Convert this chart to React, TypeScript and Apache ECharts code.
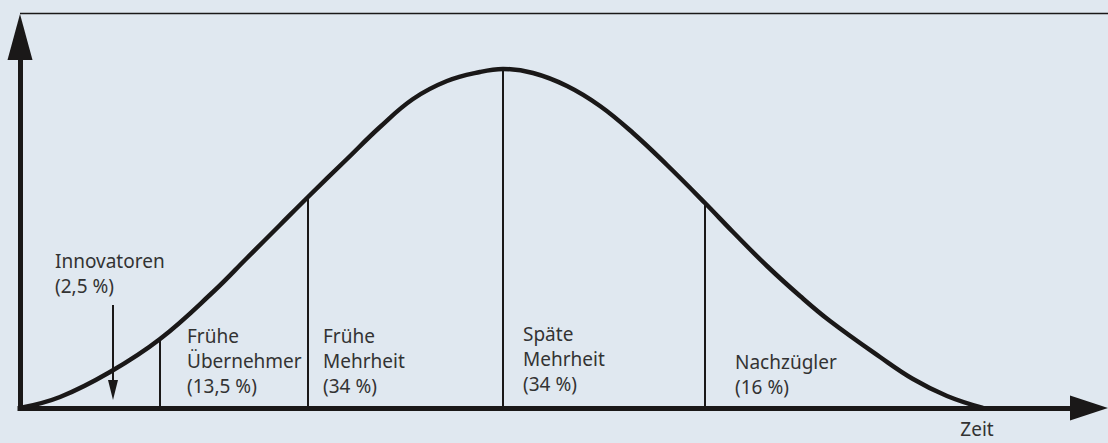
import React, { useEffect, useRef } from "react";
import * as echarts from "echarts";

// Bell curve of adoption over time (x: time units, y: adopters)
const curveX = [0, 40, 90, 140, 193, 227, 260, 288, 327, 360, 393, 427, 460, 483, 513, 547, 580, 613, 647, 685, 713, 747, 780, 810, 860, 893, 927, 963];
const curveY = [0, 11, 36, 69, 116, 150, 183, 211, 249, 281, 309, 327, 336, 339, 335, 322, 302, 275, 243, 205, 176, 142, 112, 87, 51, 29, 12, 0];

// Segment borders (x position and curve height there)
const dividerX = [140, 288, 483, 685];
const dividerY = [69, 211, 339, 205];

// Innovators arrow (x, from y, to y)
const innovArrow = [93, 103, 18];

const segmentLabels = [
  "Innovatoren\n(2,5 %)",
  "Frühe\nÜbernehmer\n(13,5 %)",
  "Frühe\nMehrheit\n(34 %)",
  "Späte\nMehrheit\n(34 %)",
  "Nachzügler\n(16 %)",
];
const axisTitle = "Zeit";

const X_MAX = 1069;
const Y_MAX = 371;

export default function App() {
  const ref = useRef<HTMLDivElement>(null);
  useEffect(() => {
    document.body.style.margin = "0";
    if (!ref.current) return;
    const chart = echarts.init(ref.current, undefined, { renderer: "svg" });
    const ink = "#1a1818";
    const textColor = "#333333";
    const font = '"Noto Sans", "Open Sans", sans-serif';
    const labelPos = [
      [55, 248],
      [187, 323],
      [323, 323],
      [523, 321.5],
      [735, 349],
    ];
    const textEls: any[] = segmentLabels.map((t, i) => ({
      type: "text",
      x: labelPos[i][0],
      y: labelPos[i][1],
      style: {
        text: t,
        fill: textColor,
        fontSize: 19,
        fontFamily: font,
        lineHeight: 25,
        align: "left",
        verticalAlign: "top",
      },
    }));
    textEls.push({
      type: "text",
      x: 977,
      y: 429,
      style: {
        text: axisTitle,
        fill: textColor,
        fontSize: 19,
        fontFamily: font,
        align: "center",
        verticalAlign: "middle",
      },
    });
    textEls.push({
      type: "line",
      shape: { x1: 20, y1: 13.5, x2: 1108, y2: 13.5 },
      style: { stroke: ink, lineWidth: 1.5 },
    });

    const dividerLines = dividerX.map((x, i) => [
      { coord: [x, 0] },
      { coord: [x, dividerY[i]] },
    ]);

    chart.setOption({
      animation: false,
      backgroundColor: "#e0e8f0",
      grid: { left: 20, right: 19, top: 37, bottom: 35 },
      xAxis: {
        type: "value",
        min: 0,
        max: X_MAX,
        axisLine: {
          show: true,
          onZero: false,
          symbol: ["none", "triangle"],
          symbolSize: [25, 38],
          lineStyle: { color: ink, width: 5, cap: "square" },
        },
        axisTick: { show: false },
        axisLabel: { show: false },
        splitLine: { show: false },
      },
      yAxis: {
        type: "value",
        min: 0,
        max: Y_MAX,
        axisLine: {
          show: true,
          onZero: false,
          symbol: ["none", "triangle"],
          symbolSize: [25, 46],
          lineStyle: { color: ink, width: 5, cap: "square" },
        },
        axisTick: { show: false },
        axisLabel: { show: false },
        splitLine: { show: false },
      },
      series: [
        {
          type: "line",
          data: curveX.map((x, i) => [x, curveY[i]]),
          smooth: 0.4,
          showSymbol: false,
          symbol: "none",
          lineStyle: { color: ink, width: 4.5 },
          z: 3,
          markLine: {
            silent: true,
            symbol: ["none", "none"],
            label: { show: false },
            lineStyle: { color: ink, width: 2, type: "solid" },
            data: dividerLines,
          },
        },
        {
          type: "line",
          data: [],
          markLine: {
            silent: true,
            symbol: ["none", "triangle"],
            symbolSize: [10, 20],
            label: { show: false },
            lineStyle: { color: ink, width: 2, type: "solid" },
            itemStyle: { color: ink },
            data: [
              [
                { coord: [innovArrow[0], innovArrow[1]] },
                { coord: [innovArrow[0], innovArrow[2]] },
              ],
            ],
          },
        },
      ],
      graphic: textEls,
    });
    return () => chart.dispose();
  }, []);
  return <div ref={ref} style={{ width: 1108, height: 443 }} />;
}
